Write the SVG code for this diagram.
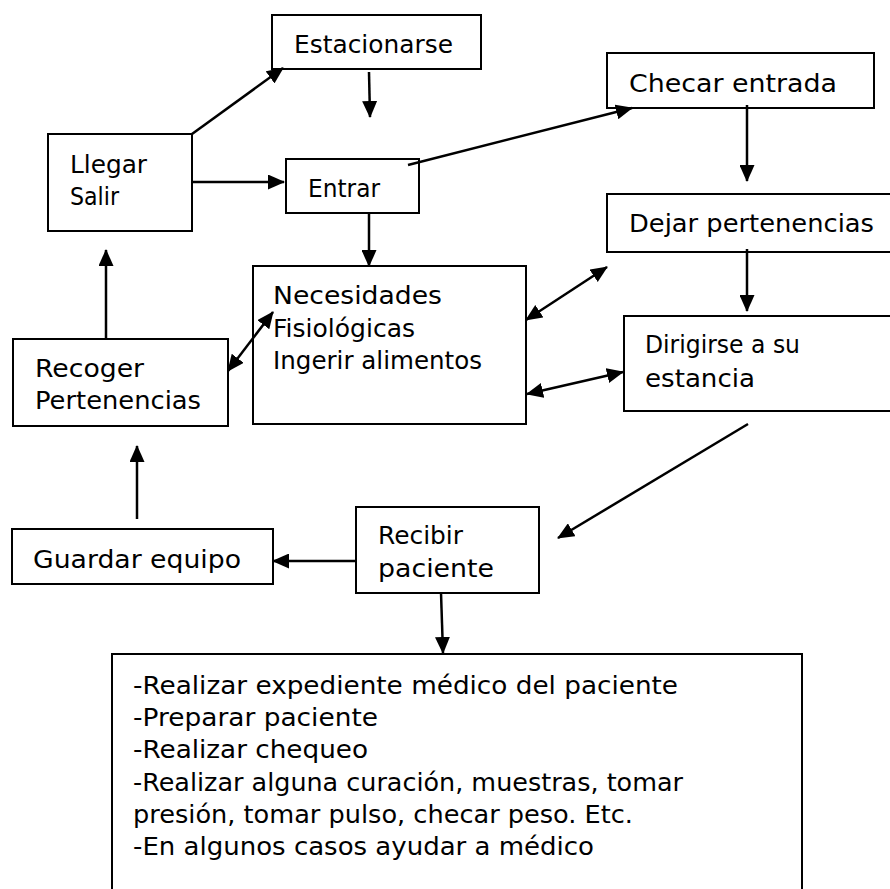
<svg xmlns="http://www.w3.org/2000/svg" width="890" height="889" viewBox="0 0 890 889">
<style>
.box{fill:#fff;stroke:#000;stroke-width:2}
.t{font-family:"DejaVu Sans","Liberation Sans",sans-serif;font-size:24px;fill:#000}
.c{stroke:#000;stroke-width:2.5;fill:none;marker-end:url(#ah)}
.d{marker-start:url(#ah)}
</style>
<defs>
<marker id="ah" viewBox="0 0 17 15" refX="16" refY="7.5" markerWidth="17" markerHeight="15" markerUnits="userSpaceOnUse" orient="auto-start-reverse">
<path d="M0,0 L17,7.5 L0,15 z" fill="#000"/>
</marker>
</defs>
<rect width="890" height="889" fill="#fff"/>
<g id="estacionarse"><rect class="box" x="272" y="15" width="209" height="54"/><text class="t" x="294" y="53" textLength="159" lengthAdjust="spacingAndGlyphs">Estacionarse</text></g>
<g id="llegar"><rect class="box" x="48" y="134" width="144" height="97"/><text class="t" x="70" y="173" textLength="77" lengthAdjust="spacingAndGlyphs">Llegar</text><text class="t" x="70" y="205" textLength="49" lengthAdjust="spacingAndGlyphs">Salir</text></g>
<g id="entrar"><rect class="box" x="286" y="159" width="133" height="54"/><text class="t" x="308" y="197" textLength="72" lengthAdjust="spacingAndGlyphs">Entrar</text></g>
<g id="checar"><rect class="box" x="607" y="53" width="267" height="55"/><text class="t" x="629" y="92" textLength="208" lengthAdjust="spacingAndGlyphs">Checar entrada</text></g>
<g id="dejar"><rect class="box" x="607" y="194" width="300" height="58"/><text class="t" x="629" y="232" textLength="245" lengthAdjust="spacingAndGlyphs">Dejar pertenencias</text></g>
<g id="dirigirse"><rect class="box" x="624" y="316" width="280" height="95"/><text class="t" x="645" y="353" textLength="155" lengthAdjust="spacingAndGlyphs">Dirigirse a su</text><text class="t" x="645" y="387" textLength="110" lengthAdjust="spacingAndGlyphs">estancia</text></g>
<g id="necesidades"><rect class="box" x="253" y="266" width="273" height="158"/><text class="t" x="273" y="304" textLength="169" lengthAdjust="spacingAndGlyphs">Necesidades</text><text class="t" x="273" y="337" textLength="142" lengthAdjust="spacingAndGlyphs">Fisiológicas</text><text class="t" x="273" y="369" textLength="209" lengthAdjust="spacingAndGlyphs">Ingerir alimentos</text></g>
<g id="recoger"><rect class="box" x="13" y="339" width="215" height="87"/><text class="t" x="35" y="377" textLength="109" lengthAdjust="spacingAndGlyphs">Recoger</text><text class="t" x="35" y="409" textLength="166" lengthAdjust="spacingAndGlyphs">Pertenencias</text></g>
<g id="guardar"><rect class="box" x="12" y="529" width="261" height="55"/><text class="t" x="33" y="568" textLength="208" lengthAdjust="spacingAndGlyphs">Guardar equipo</text></g>
<g id="recibir"><rect class="box" x="356" y="507" width="183" height="86"/><text class="t" x="378" y="544" textLength="85" lengthAdjust="spacingAndGlyphs">Recibir</text><text class="t" x="378" y="577" textLength="116" lengthAdjust="spacingAndGlyphs">paciente</text></g>
<g id="tareas"><rect class="box" x="112" y="654" width="690" height="250"/>
<text class="t" x="133" y="694" textLength="545" lengthAdjust="spacingAndGlyphs">-Realizar expediente médico del paciente</text>
<text class="t" x="133" y="726" textLength="245" lengthAdjust="spacingAndGlyphs">-Preparar paciente</text>
<text class="t" x="133" y="758" textLength="235" lengthAdjust="spacingAndGlyphs">-Realizar chequeo</text>
<text class="t" x="133" y="791" textLength="550" lengthAdjust="spacingAndGlyphs">-Realizar alguna curación, muestras, tomar</text>
<text class="t" x="133" y="823" textLength="500" lengthAdjust="spacingAndGlyphs">presión, tomar pulso, checar peso. Etc.</text>
<text class="t" x="133" y="855" textLength="461" lengthAdjust="spacingAndGlyphs">-En algunos casos ayudar a médico</text>
</g>
<g id="connectors">
<line class="c" x1="192" y1="134" x2="283" y2="68"/>
<line class="c" x1="369" y1="72" x2="370" y2="117"/>
<line class="c" x1="192" y1="182" x2="284" y2="182"/>
<line class="c" x1="408" y1="165" x2="632" y2="108"/>
<line class="c" x1="747" y1="105" x2="747" y2="181"/>
<line class="c" x1="369" y1="213" x2="369" y2="266"/>
<line class="c" x1="747" y1="249" x2="747" y2="311"/>
<line class="c d" x1="526" y1="320" x2="607" y2="267"/>
<line class="c d" x1="527" y1="394" x2="623" y2="372"/>
<line class="c" x1="748" y1="424" x2="558" y2="538"/>
<line class="c d" x1="228" y1="371" x2="273" y2="312"/>
<line class="c" x1="106" y1="339" x2="106" y2="250"/>
<line class="c" x1="137" y1="519" x2="137" y2="446"/>
<line class="c" x1="355" y1="561" x2="273" y2="561"/>
<line class="c" x1="441" y1="593" x2="443" y2="653"/>
</g>
</svg>
